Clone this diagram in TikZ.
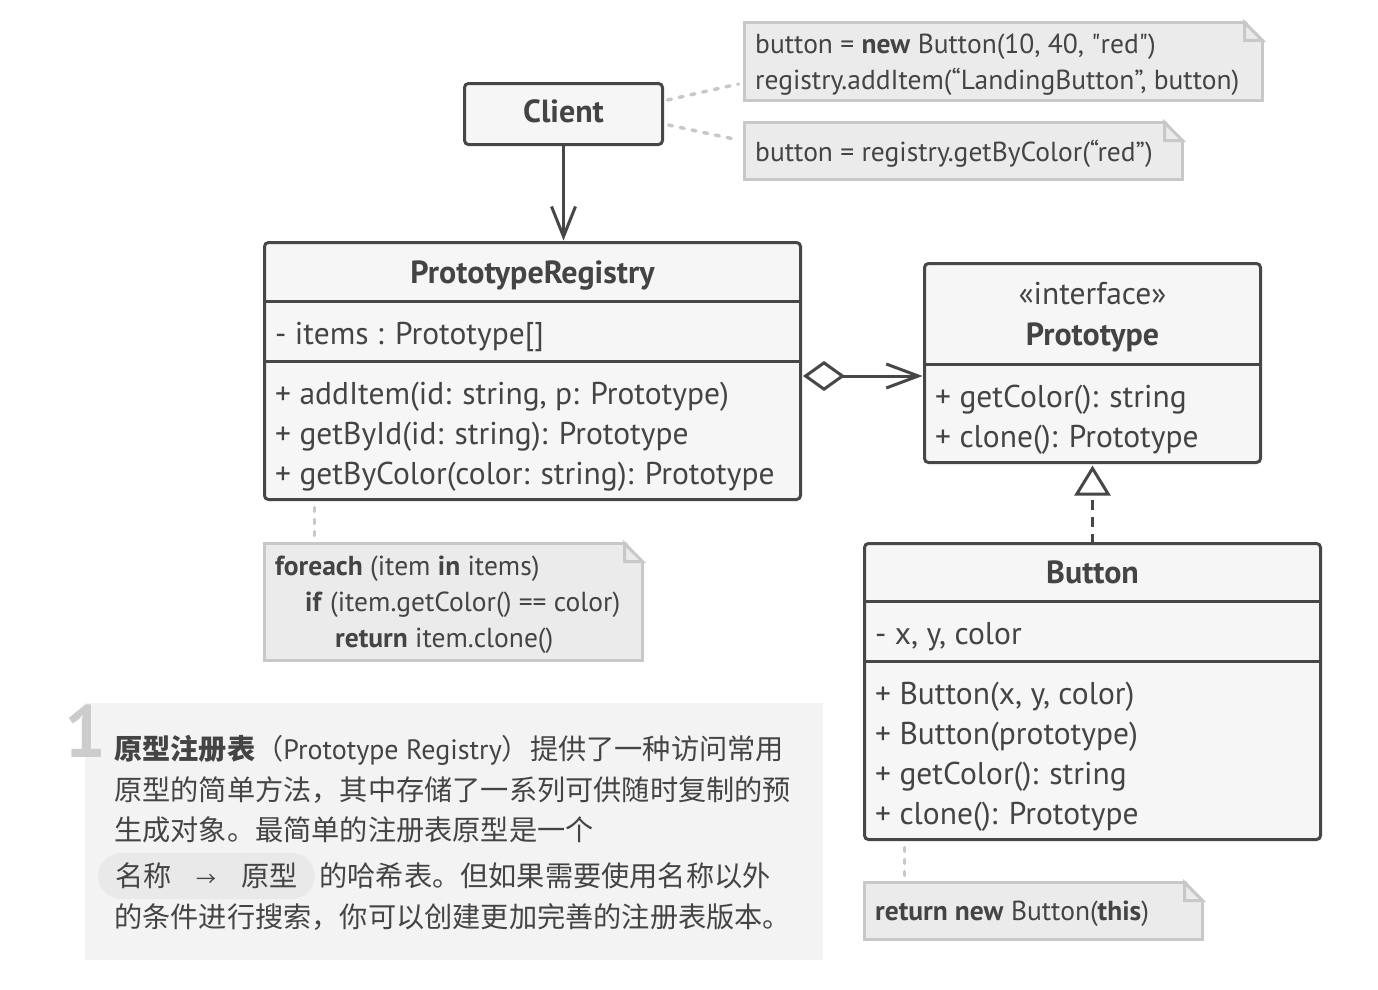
\documentclass[tikz,border=0pt]{standalone}
\usepackage{fontspec}
\setmainfont{PT Sans}
\newfontfamily\cjk{Noto Sans CJK SC}
\usetikzlibrary{arrows.meta,positioning,backgrounds}

\definecolor{umlline}{HTML}{474747}
\definecolor{umlfill}{HTML}{F6F6F6}
\definecolor{umltext}{HTML}{444444}
\definecolor{notefill}{HTML}{EBEBEB}
\definecolor{noteline}{HTML}{C8C8C8}
\definecolor{descfill}{HTML}{F3F3F3}
\definecolor{chipfill}{HTML}{E9E9E9}
\definecolor{numgray}{HTML}{CCCCCC}

\tikzset{
    classbox/.style={draw=umlline, fill=umlfill, line width=3pt,
        rounded corners=4pt, inner sep=0, outer sep=0, anchor=north west},
    member/.style={text=umltext, font=\fontsize{31.5}{36}\selectfont,
        inner sep=0, anchor=mid west},
    title/.style={text=umltext, font=\fontsize{32}{36}\selectfont\bfseries,
        inner sep=0, anchor=mid},
    notebox/.style={draw=noteline, fill=notefill, line width=3pt, inner sep=0,
        outer sep=0, anchor=north west},
    notetext/.style={text=umltext, font=\fontsize{27.5}{36}\selectfont,
        inner sep=0, align=left, anchor=west},
    notelink/.style={draw=noteline, line width=3.5pt, line cap=round,
        dash pattern=on 4pt off 8pt},
    sepline/.style={draw=umlline, line width=3pt},
    link/.style={draw=umlline, line width=3pt},
    desctext/.style={text=umltext, font=\fontsize{28.2}{32}\selectfont\cjk,
        inner sep=0, anchor=west}
}

\newcommand{\straightq}{{\addfontfeatures{Ligatures=TeXOff}"}}

\begin{document}
\begin{tikzpicture}[x=1pt, y=-1pt]

    \begin{scope}[on background layer]
        \fill[white] (0,0) rectangle (1378,990);
    \end{scope}
    \useasboundingbox (0,0) rectangle (1378,990);

    % Client
    \node[classbox, minimum width=198pt, minimum height=61pt] (client) at (464.5,83.5) {};
    \node[title] (client-t) at ([yshift=-6pt]client.center) {Client};

    % PrototypeRegistry
    \node[classbox, minimum width=536pt, minimum height=257pt] (registry) at (264.5,242.5) {};
    \draw[sepline] (registry.west |- 0,301) -- (registry.east |- 0,301);
    \draw[sepline] (registry.west |- 0,361) -- (registry.east |- 0,361);
    \node[title] (registry-t) at (532.5,281) {PrototypeRegistry};
    \node[member] (registry-a) at (275,342) {- items : Prototype[]};
    \node[member] (registry-m1) at (275,402) {+ addItem(id: string, p: Prototype)};
    \node[member] (registry-m2) at (275,442) {+ getById(id: string): Prototype};
    \node[member] (registry-m3) at (275,482) {+ getByColor(color: string): Prototype};

    % Prototype
    \node[classbox, minimum width=336pt, minimum height=199pt] (proto) at (924.5,263.5) {};
    \draw[sepline] (proto.west |- 0,364) -- (proto.east |- 0,364);
    \node[member, anchor=mid] (proto-s) at (1092.5,302) {«interface»};
    \node[title] (proto-t) at (1092.5,343) {Prototype};
    \node[member] (proto-m1) at (935,405) {+ getColor(): string};
    \node[member] (proto-m2) at (935,445) {+ clone(): Prototype};

    % Button
    \node[classbox, minimum width=456pt, minimum height=296pt] (button) at (864.5,543.5) {};
    \draw[sepline] (button.west |- 0,601) -- (button.east |- 0,601);
    \draw[sepline] (button.west |- 0,661) -- (button.east |- 0,661);
    \node[title] (button-t) at (1092.5,581) {Button};
    \node[member] (button-a) at (875,642) {- x, y, color};
    \node[member] (button-m1) at (875,702) {+ Button(x, y, color)};
    \node[member] (button-m2) at (875,742) {+ Button(prototype)};
    \node[member] (button-m3) at (875,782) {+ getColor(): string};
    \node[member] (button-m4) at (875,822) {+ clone(): Prototype};

    % Notes
    \node[notebox, minimum width=518pt, minimum height=78pt] (note1) at (744.5,22.5) {};
    \node[notebox, minimum width=438pt, minimum height=57pt] (note2) at (744.5,122.5) {};
    \node[notebox, minimum width=378pt, minimum height=117pt] (note3) at (264.5,543.5) {};
    \node[notebox, minimum width=338pt, minimum height=57pt] (note4) at (864.5,882.5) {};
    \foreach \n in {note1, note2, note3, note4} {
        \fill[white] ([xshift=-16.5pt,yshift=1.6pt]\n.north east) -- ([xshift=1.6pt,yshift=1.6pt]\n.north east)
            -- ([xshift=1.6pt,yshift=-19.5pt]\n.north east) -- cycle;
        \draw[notebox] ([xshift=-18pt]\n.north east) |- ([yshift=-18pt]\n.north east) -- cycle;
    }
    \node[notetext] (note1-t) at ([xshift=10.5pt, yshift=-3pt]note1.west)
        {button = \textbf{new} Button(10, 40, \straightq red\straightq)\\registry.addItem(“LandingButton”, button)};
    \node[notetext] (note2-t) at ([xshift=10.5pt, yshift=-3pt]note2.west)
        {button = registry.getByColor(“red”)};
    \node[notetext] (note3-t) at ([xshift=10.5pt, yshift=-3pt]note3.west)
        {\textbf{foreach} (item \textbf{in} items)\\
         \hspace*{30pt}\textbf{if} (item.getColor() == color)\\
         \hspace*{60pt}\textbf{return} item.clone()};
    \node[notetext] (note4-t) at ([xshift=10.5pt, yshift=-3pt]note4.west)
        {\textbf{return new} Button(\textbf{this})};

    % Description
    \node[fill=descfill, minimum width=738pt, minimum height=257pt, inner sep=0,
        anchor=north west] (desc) at (85,703) {};
    \node[text=numgray, font=\fontsize{74}{74}\selectfont\bfseries, inner sep=0,
        anchor=base west] (num) at (64,757) {1};
    \node[desctext] (line1) at (114,750)
        {\textbf{原型注册表}（{\normalfont\fontsize{28}{32}\selectfont Prototype Registry}）提供了一种访问常用};
    \node[desctext] (line2) at (114,790) {原型的简单方法，其中存储了一系列可供随时复制的预};
    \node[desctext] (line3) at (114,830) {生成对象。最简单的注册表原型是一个};
    \node[desctext, fill=chipfill, rounded corners=23pt, minimum height=46pt,
        inner xsep=17pt] (chip) at (98,876)
        {名称\hspace{25pt}{\fontsize{20}{20}\selectfont →}\hspace{25pt}原型};
    \node[desctext, right=4pt of chip] (line4) {的哈希表。但如果需要使用名称以外};
    \node[desctext] (line5) at (114,917) {的条件进行搜索，你可以创建更加完善的注册表版本。};

    % Lines
    \draw[link, shorten >=2pt, -{Straight Barb[length=30pt, width=24pt]}] (client) -- (registry.north -| client);
    \draw[link, shorten <=2.5pt, shorten >=2pt,
        {Diamond[open, length=42pt, width=30pt]}-{Straight Barb[length=32pt, width=24pt]}]
        (registry.east |- 0,376) -- (proto.west |- 0,376);
    \draw[link, shorten >=3pt, dash pattern=on 10pt off 7pt, -{Triangle[open, length=30pt, width=36pt]}]
        (button.north -| proto) -- (proto.south);

    \draw[notelink] ([xshift=5pt, yshift=14pt]client.east) -- ([xshift=-6pt, yshift=-22.5pt]note1.west);
    \draw[notelink] ([xshift=6pt, yshift=-11pt]client.east) -- ([xshift=-6pt, yshift=11pt]note2.west);
    \draw[notelink] ([xshift=50pt, yshift=-8pt]registry.south west) -- ([xshift=50pt, yshift=6pt]note3.north west);
    \draw[notelink] ([xshift=40pt, yshift=-8pt]button.south west) -- ([xshift=40pt, yshift=6pt]note4.north west);

\end{tikzpicture}
\end{document}
